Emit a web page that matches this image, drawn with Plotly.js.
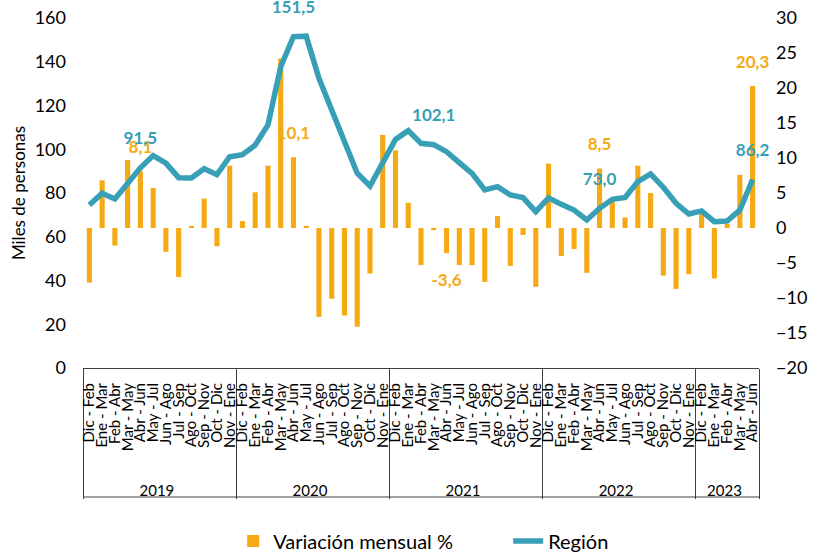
<!DOCTYPE html>
<html>
<head>
<meta charset="utf-8">
<script src="https://cdn.plot.ly/plotly-3.0.1.min.js"></script>
<style>
html,body{margin:0;padding:0;background:#fff;}
#chart{width:821px;height:552px;}
</style>
</head>
<body>
<div id="chart"></div>
<script>
// ---- Data ----
const categoryYear = [
  '2019','2019','2019','2019','2019','2019','2019','2019','2019','2019','2019','2019',
  '2020','2020','2020','2020','2020','2020','2020','2020','2020','2020','2020','2020',
  '2021','2021','2021','2021','2021','2021','2021','2021','2021','2021','2021','2021',
  '2022','2022','2022','2022','2022','2022','2022','2022','2022','2022','2022','2022',
  '2023','2023','2023','2023','2023'
];
const categoryPeriod = [
  'Dic - Feb','Ene - Mar','Feb - Abr','Mar - May','Abr - Jun','May - Jul','Jun - Ago','Jul - Sep','Ago - Oct','Sep - Nov','Oct - Dic','Nov - Ene',
  'Dic - Feb','Ene - Mar','Feb - Abr','Mar - May','Abr - Jun','May - Jul','Jun - Ago','Jul - Sep','Ago - Oct','Sep - Nov','Oct - Dic','Nov - Ene',
  'Dic - Feb','Ene - Mar','Feb - Abr','Mar - May','Abr - Jun','May - Jul','Jun - Ago','Jul - Sep','Ago - Oct','Sep - Nov','Oct - Dic','Nov - Ene',
  'Dic - Feb','Ene - Mar','Feb - Abr','Mar - May','Abr - Jun','May - Jul','Jun - Ago','Jul - Sep','Ago - Oct','Sep - Nov','Oct - Dic','Nov - Ene',
  'Dic - Feb','Ene - Mar','Feb - Abr','Mar - May','Abr - Jun'
];
// Región (miles de personas), left axis
const region = [
  74.5, 79.9, 77.3, 84.4, 91.5, 97.1, 93.6, 87.0, 86.9, 91.1, 88.4, 96.6,
  97.5, 101.9, 111.1, 137.7, 151.5, 151.7, 132.4, 117.9, 102.7, 89.0, 83.2, 94.3,
  104.5, 108.5, 102.7, 102.1, 98.9, 93.9, 89.0, 81.4, 82.9, 79.1, 77.9, 71.5,
  77.8, 74.8, 72.2, 67.7, 73.0, 77.1, 78.0, 85.2, 88.7, 82.6, 75.3, 70.4,
  71.8, 66.9, 67.2, 72.2, 86.2
];
// Variación mensual %, right axis
const variation = [
  -7.8, 6.8, -2.5, 9.7, 8.1, 5.7, -3.4, -7.0, 0.3, 4.2, -2.6, 8.9,
  1.0, 5.1, 8.9, 24.2, 10.1, 0.3, -12.7, -10.1, -12.5, -14.1, -6.5, 13.3,
  11.1, 3.6, -5.3, -0.3, -3.6, -5.3, -5.3, -7.7, 1.7, -5.4, -1.0, -8.4,
  9.2, -4.0, -3.0, -6.4, 8.5, 3.8, 1.5, 8.9, 5.0, -6.8, -8.7, -6.6,
  2.0, -7.2, 0.6, 7.6, 20.3
];
const regionLabelIdx = [4, 16, 27, 40, 52];
const variationLabelIdx = [4, 16, 28, 40, 52];

// ---- Styling ----
const orange = '#F5A912';
const teal = '#379FB6';
const fmt = v => v.toFixed(1).replace('.', ',');
// pad period labels (non-breaking spaces) so the year row sits lower, as in the source
const pad = '\u00a0'.repeat(6);
const x = [categoryYear, categoryPeriod.map(p => pad + p)];

const regionText = region.map((v, i) => regionLabelIdx.includes(i) ? fmt(v) : '');
const regionMarkerSize = region.map((v, i) => regionLabelIdx.includes(i) ? 29 : 0);
const varText = variation.map((v, i) => variationLabelIdx.includes(i) ? fmt(v) : '');
const varMarkerSize = variation.map(v => v >= 0 ? 21 : 30);
const varTextPos = variation.map(v => v >= 0 ? 'top center' : 'bottom center');

const traces = [
  {
    type: 'bar', name: 'Variación mensual %', x: x, y: variation, yaxis: 'y2',
    marker: {color: orange}, hoverinfo: 'y'
  },
  {
    type: 'scatter', mode: 'markers+text', x: x, y: variation, yaxis: 'y2',
    text: varText, textposition: varTextPos, cliponaxis: false,
    textfont: {color: orange, size: 17, family: 'Lato, sans-serif', weight: 'bold'},
    marker: {size: varMarkerSize, color: 'rgba(0,0,0,0)', opacity: 0, line: {width: 0}},
    showlegend: false, hoverinfo: 'skip'
  },
  {
    type: 'scatter', mode: 'lines+markers+text', name: 'Región', x: x, y: region, yaxis: 'y',
    line: {color: teal, width: 5.5}, cliponaxis: false,
    marker: {size: regionMarkerSize, color: 'rgba(0,0,0,0)', opacity: 0, line: {width: 0}},
    text: regionText, textposition: 'top center',
    textfont: {color: teal, size: 17, family: 'Lato, sans-serif', weight: 'bold'},
    hoverinfo: 'y'
  }
];

const layout = {
  width: 821, height: 552,
  margin: {l: 83, r: 62, t: 18, b: 184},
  paper_bgcolor: '#fff', plot_bgcolor: '#fff',
  font: {family: 'Lato, sans-serif', color: '#000'},
  bargap: 0.6,
  showlegend: true,
  legend: {orientation: 'h', xref: 'container', yref: 'container',
           x: 0.284, xanchor: 'left', y: 0.02, yanchor: 'middle',
           font: {size: 20}, traceorder: 'normal', entrywidth: 230},
  xaxis: {
    type: 'multicategory', range: [-0.5, 52.5],
    tickmode: 'linear', tick0: 0, dtick: 1,
    tickangle: -90, tickfont: {size: 15}, ticklabelstandoff: 8,
    showline: true, linecolor: '#404040', linewidth: 1,
    showdividers: true, dividercolor: '#404040', dividerwidth: 1,
    showgrid: false, ticks: ''
  },
  yaxis: {
    overlaying: 'y2', side: 'left', range: [0, 160], dtick: 20,
    showgrid: false, zeroline: false, tickfont: {size: 18}, ticklabelstandoff: 16,
    title: {text: 'Miles de personas', font: {size: 17}, standoff: 4}
  },
  yaxis2: {
    side: 'right', range: [-20, 30], dtick: 5,
    showgrid: false, zeroline: false, tickfont: {size: 18}, ticklabelstandoff: 16
  },
  shapes: [
    {type: 'line', xref: 'paper', yref: 'paper', x0: 0, x1: 1, y0: -0.3686, y1: -0.3686,
     line: {color: '#404040', width: 1}}
  ],
  annotations: [
    {text: 'Fuente: ENE, INE', xref: 'paper', yref: 'paper', x: -0.096, xanchor: 'left',
     y: -0.517, yanchor: 'top', showarrow: false, font: {size: 14, color: '#404040'}}
  ]
};

Plotly.newPlot('chart', traces, layout, {displayModeBar: false, staticPlot: true});
</script>
</body>
</html>
